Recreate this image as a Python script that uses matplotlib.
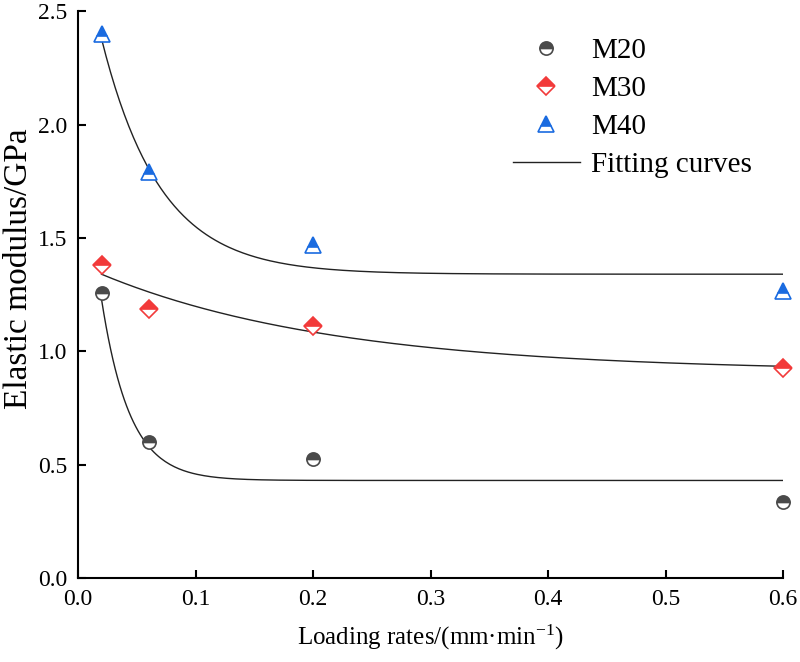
import numpy as np
import matplotlib
matplotlib.use('Agg')
import matplotlib.pyplot as plt

plt.rcParams['font.family'] = ['Liberation Serif', 'DejaVu Serif']
plt.rcParams['mathtext.fontset'] = 'custom'
plt.rcParams['mathtext.rm'] = 'Liberation Serif'
plt.rcParams['mathtext.it'] = 'Liberation Serif:italic'

# measured points
rates = [0.02, 0.06, 0.2, 0.6]
m20 = [1.257, 0.598, 0.525, 0.335]
m30 = [1.38, 1.186, 1.111, 0.925]
m40 = [2.40, 1.79, 1.468, 1.265]

# exponential decay fits y = y0 + A*exp(-x/t)
fit20 = [0.43, 1.84, 0.024]
fit30 = [0.91, 0.475, 0.20]
fit40 = [1.34, 1.55, 0.05]

fig, ax = plt.subplots(figsize=(8, 6.62), dpi=100)
fig.subplots_adjust(left=0.0975, right=0.979, bottom=0.127, top=0.983)

xf = np.linspace(0.02, 0.6, 300)
for p in (fit20, fit30, fit40):
    ax.plot(xf, p[0] + p[1] * np.exp(-xf / p[2]), color='#222222', lw=1.0, zorder=2)

ax.plot(rates, m20, 'o', ls='none', ms=9.5, fillstyle='top', color='#4a4a4a',
        markerfacecoloralt='white', mec='#4a4a4a', mew=1.2, clip_on=False, zorder=3, label='M20')
ax.plot(rates, m30, 'D', ls='none', ms=9, fillstyle='top', color='#f23a3a',
        markerfacecoloralt='white', mec='#f23a3a', mew=1.2, clip_on=False, zorder=3, label='M30')
ax.plot(rates, m40, '^', ls='none', ms=11, fillstyle='top', color='#1a6be0',
        markerfacecoloralt='white', mec='#1a6be0', mew=1.2, clip_on=False, zorder=3, label='M40')
ax.plot([], [], color='#222222', lw=1.0, label='Fitting curves')

ax.set_xlim(0, 0.6)
ax.set_ylim(0, 2.5)
ax.set_xticks(np.arange(0, 0.61, 0.1))
ax.set_yticks(np.arange(0, 2.51, 0.5))
ax.xaxis.set_major_formatter(matplotlib.ticker.FormatStrFormatter('%.1f'))
ax.yaxis.set_major_formatter(matplotlib.ticker.FormatStrFormatter('%.1f'))
ax.spines['top'].set_visible(False)
ax.spines['right'].set_visible(False)
for s in ('left', 'bottom'):
    ax.spines[s].set_linewidth(1.5)
ax.tick_params(direction='in', length=6, width=1.5, labelsize=17, pad=8)

ax.set_xlabel('Loading rates/(mm·min$^{-1}$)', fontsize=18, labelpad=9)
ax.set_ylabel('Elastic modulus/GPa', fontsize=24)
ax.yaxis.set_label_coords(-0.062, 0.545)

ax.legend(loc='upper right', bbox_to_anchor=(0.985, 0.99), frameon=False, fontsize=21,
          handlelength=2.3, handletextpad=0.4, labelspacing=0.4, borderaxespad=0.3)

fig.savefig('out.png', dpi=100)
